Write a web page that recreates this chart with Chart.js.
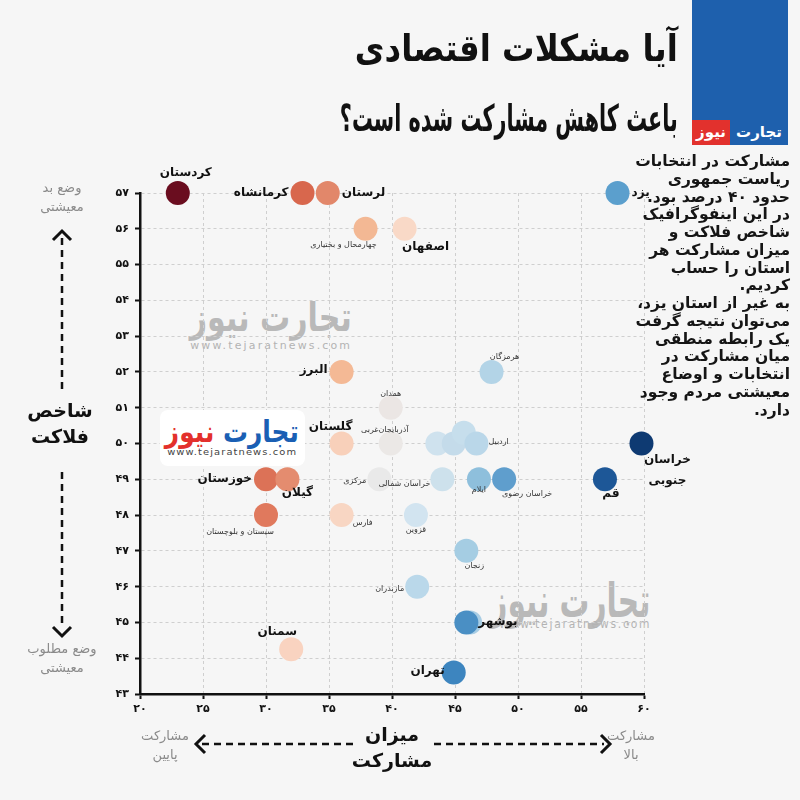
<!DOCTYPE html>
<html lang="fa">
<head>
<meta charset="utf-8">
<script src="https://cdn.jsdelivr.net/npm/chart.js@4/dist/chart.umd.min.js"></script>
<style>
  body { margin: 0; background: #f6f6f6; font-family: "DejaVu Sans", sans-serif; }
  #wrap { position: relative; width: 800px; height: 800px; overflow: hidden; background: #f6f6f6; }
  #c { position: absolute; left: 0; top: 0; z-index: 1; }
  .abs { position: absolute; direction: rtl; pointer-events: none; white-space: nowrap; z-index: 2; }
  .back { z-index: 0; }
  .fit { display: inline-block; white-space: nowrap; transform-origin: right center; }
  .mid { width: 400px; text-align: center; }
  .mid .fit { transform-origin: center center; }
  #title { right: 122px; top: 14px; font-size: 37px; font-weight: bold; line-height: 70px; text-align: right; color: #111; }
  #blue { left: 692px; top: 0; width: 96px; height: 145px; background: #1e60ad; }
  #brand { left: 692px; top: 120px; width: 96px; height: 25px; font-size: 15px; font-weight: bold; color: #fff; display: flex; }
  #brand .t { flex: 1; text-align: center; line-height: 25px; }
  #brand .n { width: 38px; background: #e2312d; text-align: center; line-height: 25px; }
  #note { right: 10px; top: 153px; width: 190px; font-size: 15.5px; font-weight: bold; line-height: 17.75px; text-align: right; color: #151515; }
  .wm { color: #b9b9b9; font-weight: bold; }
  .url { direction: ltr; color: #b3b3b3; font-weight: normal; letter-spacing: 2px; }
</style>
</head>
<body>
<div id="wrap">
  <canvas id="c" width="800" height="800"></canvas>

  <div class="abs back mid wm" style="left:71px; top:294px; font-size:40px; line-height:46px;"><span class="fit" data-w="162">تجارت نیوز</span></div>
  <div class="abs back mid url" style="left:71px; top:340px; font-size:10px;"><span class="fit" data-w="162">www.tejaratnews.com</span></div>

  <div class="abs" style="left:160px; top:410px; width:145px; height:56px; background:#fff; border-radius:8px;"></div>
  <div class="abs mid" style="left:32px; top:414px; font-size:30px; font-weight:bold; line-height:36px;"><span class="fit" data-w="134"><span style="color:#1a5fb4">تجارت</span> <span style="color:#e3302c">نیوز</span></span></div>
  <div class="abs mid url" style="left:32px; top:447px; font-size:9px; letter-spacing:1px; color:#444;"><span class="fit" data-w="130">www.tejaratnews.com</span></div>

  <div class="abs back mid wm" style="left:370px; top:574px; font-size:48px; line-height:52px;"><span class="fit" data-w="160">تجارت نیوز</span></div>
  <div class="abs back mid url" style="left:375px; top:617px; font-size:12px;"><span class="fit" data-w="152">www.tejaratnews.com</span></div>

  <div id="title" class="abs"><span class="fit" data-w="323">آیا مشکلات اقتصادی</span><br><span class="fit" data-w="338">باعث کاهش مشارکت شده است؟</span></div>
  <div id="blue" class="abs"></div>
  <div id="brand" class="abs"><span class="t">تجارت</span><span class="n">نیوز</span></div>

  <div id="note" class="abs">مشارکت در انتخابات<br>ریاست جمهوری<br>حدود ۴۰ درصد بود.<br>در این اینفوگرافیک<br>شاخص فلاکت و<br>میزان مشارکت هر<br>استان را حساب<br>کردیم.<br>به غیر از استان یزد،<br>می‌توان نتیجه گرفت<br>یک رابطه منطقی<br>میان مشارکت در<br>انتخابات و اوضاع<br>معیشتی مردم وجود<br>دارد.</div>
</div>

<script>
// provinces, participation % (x) and misery index (y)
const provinces = [
  'کردستان', 'کرمانشاه', 'لرستان', 'چهارمحال و بختیاری', 'اصفهان', 'یزد',
  'البرز', 'همدان', 'هرمزگان', 'گلستان', 'آذربایجان‌غربی', '', '', '',
  'اردبیل', 'مرکزی', 'خراسان شمالی', 'ایلام', 'خراسان رضوی', 'قم', 'خراسان جنوبی',
  'خوزستان', 'گیلان', 'سیستان و بلوچستان', 'فارس', 'قزوین', 'زنجان', 'مازندران',
  '', 'بوشهر', 'سمنان', 'تهران'
];
const participation = [
  23.0, 32.9, 34.9, 37.9, 41.0, 57.9,
  36.0, 39.9, 47.9, 36.0, 39.9, 43.6, 44.9, 45.7,
  46.7, 39.0, 44.0, 46.9, 48.9, 56.9, 59.8,
  30.0, 31.7, 30.0, 36.0, 41.9, 45.9, 42.0,
  46.2, 45.9, 32.0, 44.9
];
const misery = [
  57, 57, 57, 56, 56, 57,
  52, 51, 52, 50, 50, 50, 50, 50.3,
  50, 49, 49, 49, 49, 49, 50,
  49, 49, 48, 48, 48, 47, 46,
  45, 45, 44.25, 43.6
];
const xTicks = [20, 25, 30, 35, 40, 45, 50, 55, 60];
const yTicks = [43, 44, 45, 46, 47, 48, 49, 50, 51, 52, 53, 54, 55, 56, 57];

// styles per point
const pointColors = [
  '#6a0d1f', '#d8674d', '#e2876a', '#f3b894', '#f9d9c7', '#5b9fcd',
  '#f4b995', '#ebe6e4', '#b3d4e7', '#f8d0ba', '#ebe8e6', '#cfe2ee', '#c4dbea', '#c6deec',
  '#bad7e9', '#e9e9e9', '#cde1ec', '#8ebfdc', '#5f9ecd', '#1d5797', '#0e3a72',
  '#dc7257', '#e48c6f', '#e0795d', '#f8d6c3', '#d2e4f0', '#a5cde3', '#bad8ea',
  '#a8cde4', '#4a8fc4', '#f9d3c0', '#3d85bf'
];
// [dx, dy, align, bold]
const labelPos = [
  [8, -20, 'center', 1], [-14, 0, 'right', 1], [14, 0, 'left', 1], [-22, 16, 'center', 0], [21, 18, 'center', 1], [14, 0, 'left', 1],
  [-14, -2, 'right', 1], [0, -14, 'center', 0], [13, -15, 'center', 0], [-11, -17, 'center', 1], [-6, -14, 'center', 0], null, null, null,
  [12, -2, 'left', 0], [-13, 2, 'right', 0], [-12, 5, 'right', 0], [0, 11, 'center', 0], [23, 15, 'center', 0], [6, 15, 'center', 1], [26, 16, 'center', 1],
  [-14, 0, 'right', 1], [10, 14, 'center', 1], [-26, 17, 'center', 0], [21, 8, 'center', 0], [0, 15, 'center', 0], [8, 15, 'center', 0], [-13, 2, 'right', 0],
  null, [12, -1, 'left', 1], [-14, -17, 'center', 1], [-9, -2, 'right', 1]
];

const fa = n => String(n).replace(/\d/g, d => '۰۱۲۳۴۵۶۷۸۹'[d]);
const FONT = '"DejaVu Sans", sans-serif';

// squeeze the wide fallback font into the widths of the original lettering
document.querySelectorAll('.fit').forEach(el => {
  const w = el.getBoundingClientRect().width;
  el.style.transform = 'scaleX(' + (Number(el.dataset.w) / w) + ')';
});

const pointLabels = {
  id: 'pointLabels',
  afterDatasetsDraw(chart) {
    const ctx = chart.ctx;
    const meta = chart.getDatasetMeta(0);
    ctx.save();
    ctx.direction = 'rtl';
    ctx.textBaseline = 'middle';
    meta.data.forEach((pt, i) => {
      const lp = labelPos[i];
      if (!lp || !provinces[i]) return;
      ctx.font = (lp[3] ? 'bold 12px ' : '8px ') + FONT;
      ctx.fillStyle = lp[3] ? '#111' : '#333';
      ctx.textAlign = lp[2];
      const lines = provinces[i] === 'خراسان جنوبی' ? ['خراسان', 'جنوبی'] : [provinces[i]];
      lines.forEach((t, k) => ctx.fillText(t, pt.x + lp[0], pt.y + lp[1] + k * 21));
    });
    ctx.restore();
  }
};

function chevron(ctx, x, y, dir) {
  const s = 9;
  ctx.beginPath();
  if (dir === 'up') { ctx.moveTo(x - s, y + s); ctx.lineTo(x, y); ctx.lineTo(x + s, y + s); }
  if (dir === 'down') { ctx.moveTo(x - s, y - s); ctx.lineTo(x, y); ctx.lineTo(x + s, y - s); }
  if (dir === 'left') { ctx.moveTo(x + s, y - s); ctx.lineTo(x, y); ctx.lineTo(x + s, y + s); }
  if (dir === 'right') { ctx.moveTo(x - s, y - s); ctx.lineTo(x, y); ctx.lineTo(x - s, y + s); }
  ctx.stroke();
}

const decorations = {
  id: 'decorations',
  afterDraw(chart) {
    const ctx = chart.ctx;
    ctx.save();
    ctx.direction = 'rtl';
    ctx.textAlign = 'center';
    ctx.textBaseline = 'middle';
    ctx.strokeStyle = '#111';
    ctx.lineWidth = 2.5;

    // vertical arrow
    ctx.setLineDash([7, 5]);
    ctx.beginPath(); ctx.moveTo(62, 238); ctx.lineTo(62, 392); ctx.stroke();
    ctx.beginPath(); ctx.moveTo(62, 472); ctx.lineTo(62, 628); ctx.stroke();
    // horizontal arrow
    ctx.beginPath(); ctx.moveTo(202, 744); ctx.lineTo(356, 744); ctx.stroke();
    ctx.beginPath(); ctx.moveTo(434, 744); ctx.lineTo(604, 744); ctx.stroke();
    ctx.setLineDash([]);
    ctx.lineWidth = 3;
    chevron(ctx, 62, 231, 'up');
    chevron(ctx, 62, 636, 'down');
    chevron(ctx, 196, 744, 'left');
    chevron(ctx, 610, 744, 'right');

    ctx.fillStyle = '#111';
    ctx.font = 'bold 19px ' + FONT;
    ctx.fillText('شاخص', 60, 412);
    ctx.fillText('فلاکت', 60, 438);
    ctx.fillText('میزان', 392, 736);
    ctx.fillText('مشارکت', 392, 762);

    ctx.fillStyle = '#8a8a8a';
    ctx.font = '13px ' + FONT;
    ctx.fillText('وضع بد', 62, 189);
    ctx.fillText('معیشتی', 62, 208);
    ctx.fillText('وضع مطلوب', 62, 650);
    ctx.fillText('معیشتی', 62, 669);
    ctx.fillText('مشارکت', 165, 737);
    ctx.fillText('پایین', 165, 756);
    ctx.fillText('مشارکت', 631, 737);
    ctx.fillText('بالا', 631, 756);
    ctx.restore();
  }
};

const gridStyle = { color: '#cfcfcf', lineWidth: 1, tickColor: '#111', tickWidth: 2, tickLength: 5, tickBorderDash: [] };
const borderStyle = { display: true, color: '#111', width: 2.5, dash: [3, 3] };

new Chart(document.getElementById('c'), {
  type: 'scatter',
  data: {
    datasets: [{
      data: participation.map((x, i) => ({ x: x, y: misery[i] })),
      backgroundColor: pointColors,
      borderWidth: 0,
      pointRadius: 12,
      pointHoverRadius: 12,
      clip: false
    }]
  },
  options: {
    responsive: false,
    animation: false,
    devicePixelRatio: 1,
    layout: { padding: { left: 0, right: 156, top: 193, bottom: 81 } },
    plugins: { legend: { display: false }, tooltip: { enabled: false } },
    scales: {
      x: {
        type: 'linear', min: 20, max: 60,
        afterBuildTicks: s => { s.ticks = xTicks.map(v => ({ value: v })); },
        afterFit: s => { s.height = 25; },
        grid: gridStyle,
        border: borderStyle,
        ticks: { color: '#111', padding: 4, font: { family: FONT, size: 11, weight: 'bold' }, callback: v => fa(v) }
      },
      y: {
        type: 'linear', min: 43, max: 57,
        afterBuildTicks: s => { s.ticks = yTicks.map(v => ({ value: v })); },
        afterFit: s => { s.width = 140; },
        grid: gridStyle,
        border: borderStyle,
        ticks: { color: '#111', padding: 6, font: { family: FONT, size: 11, weight: 'bold' }, callback: v => fa(v) }
      }
    }
  },
  plugins: [pointLabels, decorations]
});
</script>
</body>
</html>
